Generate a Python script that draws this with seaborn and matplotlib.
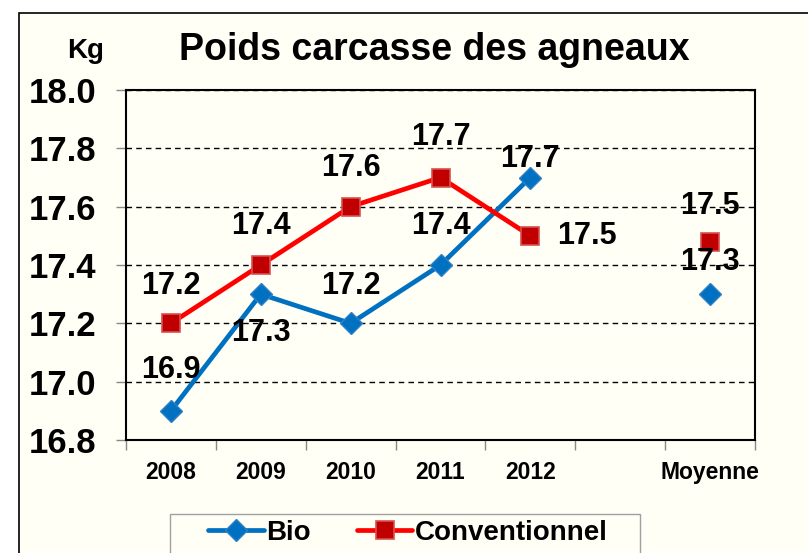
import numpy as np
import pandas as pd
import matplotlib
matplotlib.use("Agg")
import matplotlib.pyplot as plt
import seaborn as sns
from matplotlib.patches import Rectangle
from matplotlib.lines import Line2D

# ---- data ----
categories = ["2008", "2009", "2010", "2011", "2012", "", "Moyenne"]
bio = [16.9, 17.3, 17.2, 17.4, 17.7, np.nan, 17.3]
conv = [17.2, 17.4, 17.6, 17.7, 17.5, np.nan, 17.48]
yticks = [16.8, 17.0, 17.2, 17.4, 17.6, 17.8, 18.0]
series_names = ["Bio", "Conventionnel"]
title = "Poids carcasse des agneaux"
unit = "Kg"

# ---- label placement (pixel offsets), style ----
bio_off = [(0, 41), (0, -39), (0, 37), (0, 39), (0, 19), None, (0, 32)]
conv_off = [(0, 37), (0, 39), (0, 39), (0, 41), (57, 0), None, (0, 36)]

BG = "#FFFFF6"
BLUE = "#0070C0"
RED_LINE = "#FF0000"
RED_FACE = "#C00000"
RED_EDGE = "#D85050"

sns.set_theme(style="white")
plt.rcParams["font.family"] = ["Liberation Sans", "DejaVu Sans"]
plt.rcParams["font.weight"] = "bold"
plt.rcParams["text.color"] = "black"
plt.rcParams["xtick.color"] = "black"
plt.rcParams["ytick.color"] = "black"

W, H = 808, 553
fig = plt.figure(figsize=(W / 100, H / 100), dpi=100, facecolor="white")
fig.patches.append(Rectangle((19 / W, -0.05), 1.0, 1 - 13 / H + 0.05,
                             transform=fig.transFigure, facecolor=BG,
                             edgecolor="black", lw=1.2, zorder=-5))
# legend box
fig.patches.append(Rectangle((170 / W, -0.05), (640 - 170) / W, 1 - 514 / H + 0.05,
                             transform=fig.transFigure, facecolor=BG,
                             edgecolor="#A0A0A0", lw=1.0, zorder=-4))
ax = fig.add_axes([126 / W, 1 - 440 / H, (755 - 126) / W, (440 - 90) / H])
ax.set_zorder(1)
ax.set_facecolor(BG)

pos = list(range(len(categories)))
df = pd.DataFrame({"pos": pos, "cat": categories, "Bio": bio, "Conventionnel": conv})
years = df[df["cat"].str.match(r"^\d{4}$")]
avg = df[df["cat"] == "Moyenne"]

bio_kw = dict(color=BLUE, marker="D", markersize=11.5, markerfacecolor=BLUE,
              markeredgecolor="#2F7FC8", markeredgewidth=1, linewidth=3.4)
conv_kw = dict(color=RED_LINE, marker="s", markersize=12.5, markerfacecolor=RED_FACE,
               markeredgecolor=RED_EDGE, markeredgewidth=1.2, linewidth=3.4)

sns.lineplot(data=years, x="pos", y="Bio", ax=ax, sort=False, errorbar=None,
             legend=False, zorder=3, **bio_kw)
sns.lineplot(data=years, x="pos", y="Conventionnel", ax=ax, sort=False, errorbar=None,
             legend=False, zorder=3, **conv_kw)
sns.lineplot(data=avg, x="pos", y="Bio", ax=ax, errorbar=None, legend=False, zorder=3, **bio_kw)
sns.lineplot(data=avg, x="pos", y="Conventionnel", ax=ax, errorbar=None, legend=False,
             zorder=3, **conv_kw)

# data labels
for vals, offs in ((bio, bio_off), (conv, conv_off)):
    for x, v, o in zip(pos, vals, offs):
        if o is None or np.isnan(v):
            continue
        ax.annotate(f"{v:.1f}", (x, v), xytext=o, textcoords="offset pixels",
                    ha="center", va="center", fontsize=22, fontweight="bold",
                    color="black", zorder=5, annotation_clip=False)

# axes
ax.set_xlim(-0.5, len(categories) - 0.5)
ax.set_ylim(yticks[0], yticks[-1])
ax.set_yticks(yticks)
ax.set_yticklabels([f"{t:.1f}" for t in yticks], fontsize=25, fontweight="bold")
ax.set_xticks(pos)
ax.set_xticklabels(categories, fontsize=16.5, fontweight="bold")
ax.set_xticks(np.arange(-0.5, len(categories), 1.0), minor=True)
ax.tick_params(axis="x", which="major", length=0, pad=15, bottom=True, labelcolor="black")
ax.tick_params(axis="x", which="minor", length=7.5, width=1, color="#888888",
               direction="out", bottom=True)
ax.tick_params(axis="y", which="major", length=7.5, width=1, color="#888888",
               direction="out", pad=14, left=True, labelcolor="black")
ax.set_xlabel("")
ax.set_ylabel("")
ax.yaxis.grid(True, linestyle=(0, (4, 3)), color="black", linewidth=1)
ax.xaxis.grid(False)
ax.set_axisbelow(True)
for s in ax.spines.values():
    s.set_visible(True)
    s.set_color("black")
    s.set_linewidth(1.5)

fig.text(434 / W, 1 - 50 / H, title, ha="center", va="center", fontsize=27,
         fontweight="bold", color="black")
fig.text(86 / W, 1 - 51 / H, unit, ha="center", va="center", fontsize=20,
         fontweight="bold", color="black")

handles = [Line2D([], [], **bio_kw), Line2D([], [], **conv_kw)]
leg = fig.legend(handles, series_names, loc="center",
                 bbox_to_anchor=(408 / W, 1 - 533 / H), ncol=2, frameon=False,
                 prop={"size": 20, "weight": "bold"}, handlelength=2.0,
                 handletextpad=0.1, columnspacing=1.65, borderpad=0.3,
                 borderaxespad=0)
for t in leg.get_texts():
    t.set_color("black")

fig.savefig("out.png", dpi=100, facecolor=fig.get_facecolor())
